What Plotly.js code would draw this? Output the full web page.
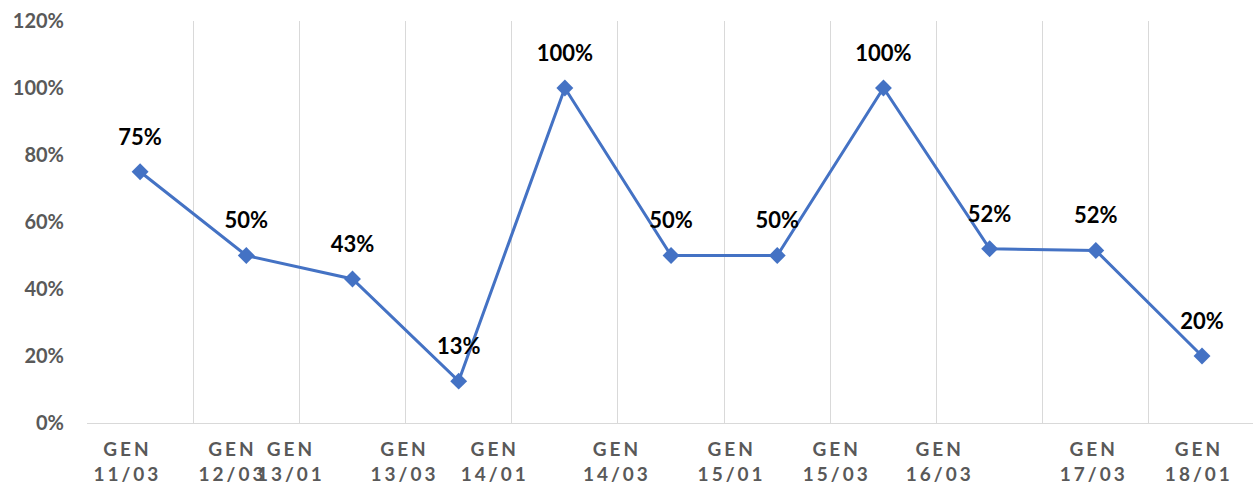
<!DOCTYPE html>
<html>
<head>
<meta charset="utf-8">
<script src="https://cdn.plot.ly/plotly-3.0.1.min.js"></script>
<style>
html,body{margin:0;padding:0;background:#fff;}
#chart{width:1253px;height:488px;}
svg text[data-unformatted^="GEN"], svg text[data-unformatted^="GEN"] tspan{letter-spacing:3px !important;}
</style>
</head>
<body>
<div id="chart"></div>
<script>
// Data
const categories = ["GEN 11/03","GEN 12/03","GEN 13/01","GEN 13/03","GEN 14/01","GEN 14/03","GEN 15/01","GEN 15/03","GEN 16/03","GEN 17/03","GEN 18/01"];
const values = [0.75, 0.50, 0.43, 0.125, 1.00, 0.50, 0.50, 1.00, 0.52, 0.515, 0.20];
const valueLabels = ["75%","50%","43%","13%","100%","50%","50%","100%","52%","52%","20%"];
const tickLabels = ["GEN<br>11/03","GEN<br>12/03","GEN<br>13/01","GEN<br>13/03","GEN<br>14/01","GEN<br>14/03","GEN<br>15/01","GEN<br>15/03","GEN<br>16/03","GEN<br>17/03","GEN<br>18/01"];

// Layout: where the (overlapping) category labels sit, in category units
const labelOffsets = [-0.12, 0.87, 1.42, 2.49, 3.34, 4.49, 5.57, 6.56, 7.53, 8.98, 9.97];

const xIdx = categories.map((c, i) => i);

const lineTrace = {
  x: xIdx,
  y: values,
  type: 'scatter',
  mode: 'lines+markers',
  line: {color: '#4472C4', width: 3},
  marker: {symbol: 'diamond', size: 13, color: '#4472C4'},
  cliponaxis: false,
  hoverinfo: 'skip'
};

// data labels (invisible large marker pushes label further above the point)
const labelTrace = {
  x: xIdx,
  y: values,
  type: 'scatter',
  mode: 'markers+text',
  text: valueLabels,
  textposition: 'top center',
  textfont: {family: 'Lato, sans-serif', size: 22, color: '#000000', weight: 'bold'},
  marker: {size: 33, opacity: 0},
  cliponaxis: false,
  hoverinfo: 'skip'
};

const layout = {
  width: 1253,
  height: 488,
  margin: {l: 87, r: 0, t: 21, b: 65},
  paper_bgcolor: '#ffffff',
  plot_bgcolor: '#ffffff',
  showlegend: false,
  xaxis: {
    range: [-0.5, 10.48],
    tick0: -0.5,
    dtick: 1,
    showgrid: true,
    gridcolor: '#d9d9d9',
    gridwidth: 1,
    showticklabels: false,
    ticks: '',
    zeroline: false,
    showline: true,
    linecolor: '#d9d9d9',
    linewidth: 1,
    fixedrange: true
  },
  xaxis2: {
    overlaying: 'x',
    side: 'bottom',
    anchor: 'y',
    range: [-0.5, 10.48],
    tickmode: 'array',
    tickvals: labelOffsets,
    ticktext: tickLabels,
    tickangle: 0,
    ticklabeloverflow: 'allow',
    showgrid: false,
    zeroline: false,
    showline: false,
    ticks: '',
    ticklabelstandoff: 13,
    tickfont: {family: 'Lato, sans-serif', size: 19, color: '#595959', weight: 'bold'},
    fixedrange: true
  },
  yaxis: {
    range: [0, 1.2],
    dtick: 0.2,
    tickformat: '.0%',
    showgrid: false,
    zeroline: false,
    showline: false,
    ticks: '',
    ticklabelstandoff: 22,
    tickfont: {family: 'Lato, sans-serif', size: 20, color: '#595959', weight: 'bold'},
    fixedrange: true
  }
};

// dummy invisible trace to activate xaxis2
const dummy = {x: [0], y: [0], xaxis: 'x2', yaxis: 'y', type: 'scatter', mode: 'markers', marker: {opacity: 0}, hoverinfo: 'skip'};

Plotly.newPlot('chart', [lineTrace, labelTrace, dummy], layout, {staticPlot: true, displayModeBar: false});
</script>
</body>
</html>
